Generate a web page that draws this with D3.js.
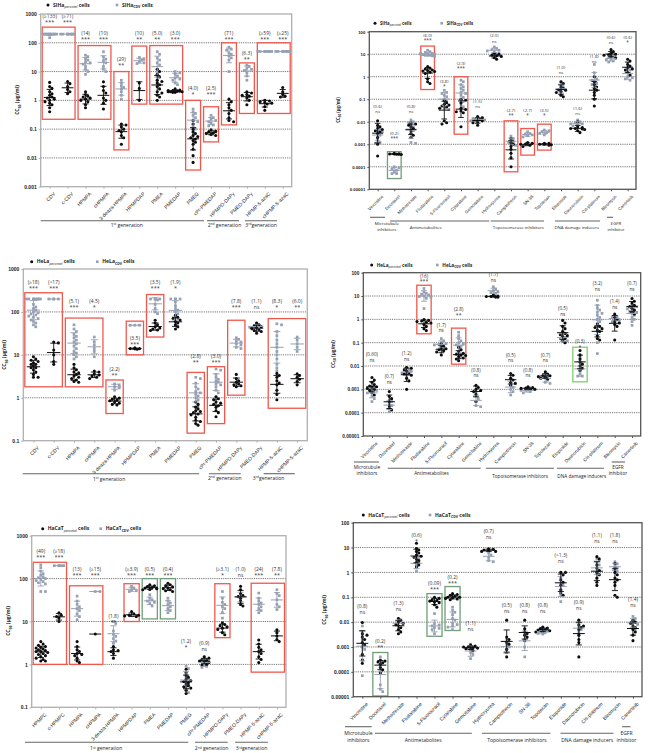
<!DOCTYPE html>
<html><head><meta charset="utf-8">
<script src="https://cdn.jsdelivr.net/npm/d3@7"></script>
<style>body{margin:0;background:#fff}svg{display:block;font-family:"Open Sans","Liberation Sans",sans-serif}</style>
</head><body><svg id="c" width="650" height="753"></svg>
<script>
// ---------------- DATA ----------------
const antiviralCats = ["CDV","c-CDV","HPMPA","cHPMPA","3-deaza-HPMPA","HPMPDAP","PMEA","PMEDAP","PMEG","cPr-PMEDAP","HPMPO-DAPy","PMEO-DAPy","HPMP-5-azaC","cHPMP-5-azaC"];
const antiviralCatsHaCaT = ["HPMPC","c-HPMPC","HPMPA","cHPMPA","3-deaza-HPMPA","HPMPDAP","PMEA","PMEDAP","PMEG","cPr-PMEDAP","HPMPO-DAPy","PMEO-DAPy","HPMP-5-azaC","cHPMP-5-azaC"];
const anticancerCats = ["Vincristine","Docetaxel","Methotrexate","Fludarabine","5-Fluorouracil","Cytarabine","Gemcitabine","Hydroxyurea","Camptothecin","SN-38","Topotecan","Etoposide","Daunorubicin","Cis-platinum","Bleomycin","Canertinib"];

const ticksAntiviral = [0.001,0.01,0.1,1,10,100,1000];
const tickLabelsAntiviral = ["0.001","0.01","0.1","1","10","100","1000"];
const ticksAntiviralHigh = [0.1,1,10,100,1000];
const tickLabelsAntiviralHigh = ["0.1","1","10","100","1000"];
const ticksAnticancer = [0.00001,0.0001,0.001,0.01,0.1,1,10,100];
const tickLabelsAnticancer = ["0.00001","0.0001","0.001","0.01","0.1","1","10","100"];

const antiviralGroups = [["1st"," generation"],["2nd"," generation"],["3rd","generation"]];
const anticancerGroups = [["Microtubule","inhibitors"],["Antimetabolites"],["Topoisomerase inhibitors"],["DNA damage inducers"],["EGFR","inhibitor"]];

// SiHa antiviral
const sihaAvParental = [
 [4.2,3.0,2.6,2.0,1.7,1.5,1.3,1.2,1.1,1.0,0.9,0.8,0.7,0.55,0.4],
 [4.5,3.8,3.0,2.4,2.0,1.7],
 [2.0,1.6,1.4,1.3,1.2,1.1,1.0,0.9,0.7,0.55],
 [4.4,3.0,2.2,1.8,1.2,1.0,0.8,0.5],
 [0.15,0.14,0.12,0.1,0.09,0.08,0.06,0.05,0.03],
 [4.0,2.6,1.0],
 [12,10,8,6.5,5,4.5,4,3.5,3,2.5,2,1.8,1.5,1.3,1.0],
 [2.5,2.3,2.2,2.1,2.1,2.0,2.0,1.9,1.9,2.2,2.0],
 [0.2,0.15,0.1,0.08,0.07,0.06,0.055,0.05,0.045,0.04,0.035,0.03,0.02,0.012,0.007],
 [0.095,0.085,0.08,0.075,0.07,0.065,0.06],
 [1.1,0.9,0.7,0.55,0.45,0.35,0.25,0.2,0.18],
 [2.0,1.8,1.6,1.5,1.4,1.2,1.0,0.7],
 [1.0,0.95,0.9,0.85,0.8,0.75,0.6,0.45],
 [2.8,2.0,1.6,1.4,1.3]];
const sihaAvCdv = [
 [200,200,200,200,200,200,200,200,200,200,150],
 [200,200,200,200,200,200,200,200],
 [37,33,28,25,22,20,18,15,12,10,8],
 [49,32,27,24,20,15,12,10],
 [5,4,3.2,2.8,2.5,2,1.5,1.1],
 [31,28,25,22,20,19],
 [49,40,30,25,20,17,12,9,7,5,4],
 [10,9,8,7,6,5.5,5,4,3.5],
 [0.5,0.4,0.35,0.3,0.25,0.2,0.18,0.15,0.12,0.1,0.08],
 [0.3,0.25,0.22,0.2,0.18,0.16,0.14,0.13],
 [70,60,55,45,40,35,30,25,10],
 [17,15,13,12,11,9,7,5],
 [50,50,50,50,50,50,50,50],
 [50,50,50,50,50,50,50,50]];
const sihaAvRatio = ["(≥133)","(≥71)","(14)","(10)","(29)","(10)","(5.0)","(3.0)","(4.0)","(2.5)","(71)","(6.3)","(≥59)","(≥25)"];
const sihaAvSig = ["***","***","***","***","**","**","**","***","*","***","***","**","***","***"];
const sihaAvAnnot = [700,700,186,186,23,186,186,186,2.2,2.2,186,38,186,186];
const sihaAvBoxes = [[0,1,350,0.22,"red"],[2,3,80,0.22,"red"],[4,4,10,0.019,"red"],[5,5,77,0.74,"red"],[6,7,80,0.74,"red"],[8,8,1.0,0.0038,"red"],[9,9,0.6,0.036,"red"],[10,10,100,0.14,"red"],[11,11,20,0.35,"red"],[12,13,100,0.35,"red"]];

// SiHa anticancer
const sihaAcParental = [
 [0.011,0.007,0.006,0.005,0.0045,0.004,0.0036,0.003,0.002,0.001,0.0003],
 [0.0004,0.00038,0.00037,0.00037,0.00036,0.00035,0.00036],
 [0.009,0.008,0.007,0.006,0.005,0.004,0.003,0.0025,0.002],
 [2.8,2.4,2.2,2.0,1.9,1.8,1.7,1.6,1.4,0.8,0.6,0.5],
 [0.09,0.07,0.06,0.055,0.05,0.045,0.04,0.011,0.009,0.008],
 [0.1,0.09,0.07,0.04,0.035,0.03,0.028,0.025,0.006],
 [0.017,0.015,0.013,0.012,0.011,0.01,0.009,0.007],
 [11,10,9,8.5,8,7,6],
 [0.0018,0.0012,0.001,0.0008,0.0006,0.0004,0.00025,0.0001],
 [0.0012,0.0011,0.001,0.001,0.0009,0.0008],
 [0.0011,0.0011,0.001,0.001,0.00095,0.0009],
 [0.6,0.5,0.35,0.3,0.27,0.25,0.22,0.2,0.15,0.13],
 [0.01,0.006,0.0055,0.005,0.005,0.0048,0.0045,0.004,0.0033],
 [1.0,0.6,0.45,0.35,0.3,0.25,0.2,0.15,0.1,0.05],
 [16,13,11,10,9.5,9,8,7],
 [6,5,3.5,3,2.5,2.2,2,1.5,1.2]];
const sihaAcCdv = [
 [0.006,0.005,0.004,0.0035,0.003,0.0025,0.002,0.0015,0.0012,0.0011],
 [0.0001,0.00009,0.00008,0.00007,0.00006,0.00005,0.00005],
 [0.012,0.01,0.009,0.007,0.006,0.005,0.004,0.003,0.002,0.0012,0.0011],
 [15,13,12,11,10,10,9.5,9,9,8.5,8,10,11,9],
 [0.25,0.2,0.18,0.15,0.13,0.1,0.08,0.06,0.04,0.035],
 [0.7,0.6,0.45,0.35,0.3,0.25,0.2,0.18,0.15,0.12,0.1,0.08,0.06,0.046],
 [0.016,0.015,0.014,0.013,0.012,0.012,0.011,0.01],
 [21,18,16,15,14,12,11],
 [0.0023,0.0018,0.0015,0.0013,0.0012,0.001,0.0009],
 [0.0036,0.003,0.0028,0.0026,0.0024,0.0021],
 [0.0043,0.004,0.0036,0.0033,0.003,0.0026],
 [0.6,0.45,0.35,0.3,0.27,0.25,0.2,0.15],
 [0.012,0.01,0.009,0.008,0.008,0.007,0.0065],
 [3.5,1.5,1.0,0.8,0.7,0.6,0.5,0.45,0.35,0.25],
 [10,8,7,6.5,6,5.5,5,4.5],
 [4,2.5,2,1.5,1.2,1.0,0.9,0.8,0.7]];
const sihaAcRatio = ["(0.6)","(0.2)","(0.8)","(6.0)","(3.8)","(2.9)","(1.5)","(2.0)","(2.7)","(2.7)","(3.5)","(1.0)","(1.6)","(1.8)","(0.6)","(0.6)"];
const sihaAcSig = ["ns","***","ns","***","*","***","ns","ns","**","*","*","ns","ns","ns","ns","*"];
const sihaAcAnnot = [0.04,0.0026,0.04,60,0.51,3.3,0.07,56,0.028,0.028,0.028,2.3,0.035,6.6,46,46];
const sihaAcBoxes = [[1,1,0.00047,0.00003,"green2"],[3,3,23,0.27,"red"],[5,5,1.0,0.0028,"red"],[8,8,0.011,0.00006,"red"],[9,9,0.005,0.00033,"red"],[10,10,0.0078,0.00055,"red"]];

// HeLa antiviral
const helaAvParental = [
 [9,8,7.5,7,6.5,6,6,5.5,5,5,4.5,4,3.5,3,3],
 [20,19,13,10,7,6],
 [6,5,4.5,4,3.8,3.5,3.2,3,2.8,2.6,2.4,2.3],
 [4.2,4,3.6,3.4,3.2,3,2.8],
 [1.05,0.98,0.92,0.88,0.85,0.8,0.75,0.7,0.68],
 [14.5,14,14,13.8,13.5],
 [64,55,50,45,42,40,38,37],
 [84,75,70,65,60,55,50,45,40],
 [0.8,0.7,0.6,0.55,0.5,0.48,0.45,0.42,0.4,0.35,0.3,0.28,0.25,0.23],
 [1.05,0.95,0.9,0.8,0.75,0.7,0.65,0.6,0.5,0.45,0.36],
 [3.5,2.8,2.5,2.3,2.1,2.0,1.9,1.8],
 [55,50,47,45,43,41,39,37,35,32],
 [3.7,3.3,3.0,2.5,2.2,2.0,1.5,1.2,0.9],
 [3.6,3.3,3.0,2.7,2.4,2.0]];
const helaAvCdv = [
 [200,200,200,200,200,200,200,200,150,130,120,110,100,95,90,85,80,75,70,65,60,55,50,45],
 [200,200,200,200],
 [50,40,35,30,27,25,22,20,18,16,14,12,11,10,9,8],
 [26,20,17,14,12,9],
 [2.1,2.0,1.8,1.7,1.5],
 [49,49,49],
 [200,200,200,200,190,150,120,100,91],
 [200,200,200,200,170,140,120,110,100,90,80,70,60,50,45],
 [3.0,2.8,2.2,1.8,1.6,1.4,1.3,1.2,1.1,1.0,0.9,0.8,0.7,0.62],
 [4.7,4.4,3.5,3.0,2.7,2.5,2.3,2.1,2.0,1.8,1.5,1.3,1.05],
 [25,23,21,20,18,17,15,14],
 [55,50,47,45,44,42,40],
 [53,50,35,28,22,18,15,12,10,8,6,5,4.3],
 [26,22,18,15,12]];
const helaAvRatio = ["(≥18)","(>17)","(5.1)","(4.5)","(2.2)","(3.5)","(3.5)","(1.9)","(2.8)","(3.0)","(7.8)","(1.1)","(8.3)","(6.0)"];
const helaAvSig = ["***","***","***","*","**","***","***","*","**","***","***","ns","*","**"];
const helaAvAnnot = [440,440,158,158,4.3,22,440,440,8.3,8.3,158,158,158,158];
const helaAvBoxes = [[0,1,280,1.8,"red"],[2,3,72,1.8,"red"],[4,4,2.6,0.43,"red"],[5,5,61,10,"red"],[6,6,254,26,"red"],[8,8,3.9,0.15,"red"],[9,9,5.3,0.25,"red"],[10,10,64,1.15,"red"],[12,13,70,0.57,"red"]];

// HeLa anticancer
const helaAcParental = [
 [0.0032,0.0025,0.002,0.0016,0.0014,0.0013,0.0012,0.0011,0.001,0.0009,0.0007,0.00057],
 [0.0008,0.0005,0.0004,0.0003,0.0002,0.00015,0.00013],
 [0.0087,0.008,0.007,0.006,0.005,0.0045,0.004,0.003,0.0023,0.001],
 [0.98,0.9,0.85,0.8,0.75,0.7,0.6,0.5,0.4,0.33],
 [0.09,0.07,0.06,0.055,0.05,0.045,0.04,0.03],
 [0.064,0.05,0.04,0.035,0.032,0.03,0.028,0.025,0.022,0.02,0.017],
 [0.0015,0.0012,0.001,0.0009,0.0008,0.0006,0.0003],
 [11,10,9.5,9.5,9,9],
 [0.0048,0.004,0.003,0.0025,0.002,0.0018,0.0015],
 [0.0013,0.0012,0.0011,0.0011,0.001,0.001],
 [0.0057,0.0045,0.004,0.0038,0.0035,0.0033,0.003,0.0028],
 [0.9,0.7,0.5,0.4,0.3,0.25,0.22,0.2,0.18,0.15,0.12,0.1],
 [0.046,0.03,0.02,0.015,0.012,0.01,0.008,0.0064],
 [0.65,0.5,0.45,0.4,0.35,0.3,0.2,0.15,0.13],
 [1.7,1.2,1.0,0.8,0.7,0.6,0.5,0.13],
 [7.8,6,5,4,3.5,3,2.5,2,1.7]];
const helaAcCdv = [
 [0.0013,0.0011,0.001,0.0009,0.0008,0.0007,0.0005,0.0004,0.0003],
 [0.00035,0.0003,0.00025,0.0002,0.00015,0.00011],
 [0.0087,0.007,0.0065,0.006,0.0055,0.005,0.004,0.003],
 [21,15,13,12,11,10,9.5,9,8,2.9],
 [0.15,0.12,0.1,0.09,0.085,0.08,0.07,0.06,0.05],
 [0.28,0.2,0.15,0.12,0.1,0.09,0.08,0.07,0.06,0.05,0.04,0.03,0.0235],
 [0.00067,0.0005,0.0004,0.0003,0.0002,0.00018],
 [25,20,17,15,14,13],
 [0.003,0.002,0.0015,0.0012,0.001,0.0008,0.00057],
 [0.0011,0.001,0.0009,0.0009,0.0008,0.0007],
 [0.0048,0.004,0.0035,0.003,0.0025,0.002,0.0018],
 [0.3,0.25,0.2,0.17,0.15,0.13,0.12,0.1],
 [0.024,0.015,0.01,0.006,0.0045,0.0037,0.0037],
 [6.6,4,3,2.5,2,1.8,1.5,1.2,1,0.8,0.5,0.3,0.1,0.034],
 [1.5,1.3,1.2,1.0,0.9,0.8],
 [4,3.5,3,2.8,2.5,2.2,2,1.8,1.5,1.2,1,0.8,0.55]];
const helaAcRatio = ["(0.60)","(0.7)","(1.2)","(16)","(1.7)","(2.8)","(0.8)","(1.7)","(0.5)","(0.8)","(0.7)","(0.5)","(0.3)","(3.2)","(1.4)","(0.7)"];
const helaAcSig = ["ns","ns","ns","***","ns","**","ns","ns","ns","ns","ns","ns","*","ns","ns","ns"];
const helaAcAnnot = [0.027,0.003,0.03,61,0.49,2.3,0.0058,72,0.025,0.0058,0.025,2.5,0.093,30,4.9,30];
const helaAcBoxes = [[3,3,29,0.24,"red"],[5,5,0.42,0.012,"red"],[12,12,0.064,0.0021,"green"]];

// HaCaT antiviral
const hacatAvParental = [
 [3.4,3.0,2.8,2.6,2.5,2.4,2.3,2.2,2.1,2.0,2.0,1.9,1.8,1.7,1.6,1.5,1.4,1.3,1.2,1.2],
 [16,14,13,12,10],
 [3.4,2.6,2.2,2.0,1.8,1.7,1.6,1.4,1.2,1.1],
 [5.1],
 [2.6,2.2,2.1,2.0,1.8,1.4],
 [17,15,14,14,13.5,13],
 [72,68,65,62,60,60,58,56,55],
 [78,72,68,64,60,58,55,52,50],
 [0.77,0.65,0.55,0.5,0.45,0.42,0.4,0.38,0.35,0.32,0.3,0.28,0.25,0.21],
 [1.5,1.4,1.3,1.25,1.2,1.15,1.1,1.0,0.97],
 [9.3,8.5,8,7.5,7,6.5,5.5,4.9],
 [66,55,45,40,38,35,30,25,23],
 [3.7,3,2.5,2.2,2,1.8,1.5,1.3,1.1],
 [6.4,5.5,4.6,3.8,3.4]];
const hacatAvCdv = [
 [210,180,150,130,120,110,105,100,95,90,85,80,75,50,50],
 [200,200,200,200,200],
 [39,30,25,22,20,18,15,13,11],
 [50,50],
 [10,9,6,5,4.5,4,3.5,3.1],
 [66,60,55,52,50],
 [42,35,32,30,28,26,23],
 [35,30,27,25,22,20,18,16],
 [0.9,0.8,0.6,0.5,0.45,0.4,0.35,0.3,0.25,0.22],
 [1.5,1.3,1.2,1.1,1.0,0.9,0.85],
 [50,35,28,25,22,20,16,12],
 [55,45,40,38,35,30,25],
 [46,35,30,27,25,22,20,18,16],
 [55,45,40,32,25,22,19]];
const hacatAvRatio = ["(49)","(≥18)","(13)","(≥15)","(1.8)","(≥3.9)","(0.5)","(0.4)","(1.2)","(0.9)","(≥3.1)","(1.0)","(24)","(7.8)"];
const hacatAvSig = ["***","***","***","***","**","***","***","***","*","ns","*","ns","***","**"];
const hacatAvAnnot = [400,400,152,152,11.8,152,152,152,3.1,2.8,152,152,152,152];
const hacatAvBoxes = [[0,1,240,1.0,"red"],[2,3,68,1.0,"red"],[5,5,76,10,"red"],[6,6,100,11.5,"green2"],[7,7,100,11.5,"green2"],[10,10,76,4.2,"red"],[12,13,78,0.66,"red"]];

// HaCaT anticancer
const hacatAcParental = [
 [0.0097,0.0034,0.003,0.0025,0.002,0.0015,0.0012,0.0005,0.0003,0.00022],
 [0.00029,0.00027,0.00025,0.00023,0.0002,0.00015,0.00012,0.00009],
 [0.014,0.012,0.01,0.009,0.008,0.007,0.006,0.005,0.004,0.0034],
 [15,9.2,8,7,6,5,4.5,4,3.5,3,2.5,2,1.7],
 [0.1,0.09,0.08,0.075,0.07,0.065,0.06,0.05,0.04],
 [0.14,0.13,0.12,0.11,0.1,0.1,0.095,0.09,0.085,0.08],
 [0.0012,0.0011,0.001,0.001,0.00095,0.0009,0.00085,0.0008,0.0007],
 [9,8.5,8,7.5,7,7],
 [0.012,0.0025,0.002,0.0015,0.0013,0.0008,0.0004],
 [0.012,0.0054,0.004,0.0035,0.003,0.0025,0.0018],
 [0.0063,0.0058,0.0055,0.005,0.0048,0.0045,0.0042,0.004],
 [1.0,1.0,0.8,0.5,0.4,0.3,0.2,0.15,0.12],
 [0.012,0.0077,0.007,0.006,0.005,0.003,0.002,0.0015,0.0004],
 [4.3,3.5,2,1.5,1.2,1,0.8,0.6,0.4,0.3],
 [2.3,1.5,1,0.8,0.6,0.5,0.4,0.3,0.12,0.1],
 [0.012,0.01,0.009,0.007,0.006,0.005,0.004,0.003,0.0018]];
const hacatAcCdv = [
 [0.007,0.004,0.003,0.002,0.0015,0.001,0.0008,0.0005,0.0003,0.00007],
 [0.0004,0.0003,0.00015,0.0001,0.00003,0.00002,0.000016],
 [0.014,0.012,0.01,0.009,0.008,0.007,0.006],
 [4.3,3.5,3,2.5,2,1.5,1.1],
 [0.022,0.0086,0.0077,0.007,0.006,0.0056,0.005,0.0034],
 [0.04,0.03,0.025,0.02,0.014,0.012,0.009,0.008,0.007,0.0063,0.005],
 [0.0013,0.001,0.0008,0.0006,0.0005,0.00034],
 [8,6,5,4,3,2.7],
 [0.002,0.0012,0.001,0.0008,0.0006],
 [0.005,0.003,0.0025,0.002,0.001,0.0004],
 [0.005,0.0045,0.004,0.0038,0.0035,0.0033],
 [1.0,0.6,0.36,0.3,0.2,0.12,0.067],
 [0.012,0.008,0.006,0.005,0.004,0.003],
 [3.6,3,2.5,2,1.5,1.2,1,0.8,0.57],
 [2.7,2.2,1.8,1.5,1.3,1.1],
 [0.017,0.014,0.012,0.01,0.009,0.008,0.006,0.005]];
const hacatAcRatio = ["(0.8)","(0.2)","(1.3)","(0.6)","(0.09)","(0.2)","(1.1)","(0.7)","(0.5)","(0.8)","(0.8)","(>1.3)","(0.9)","(1.1)","(1.8)","(1.4)"];
const hacatAcSig = ["ns","**","ns","*","***","***","ns","ns","ns","ns","ns","ns","ns","ns","ns","ns"];
const hacatAcAnnot = [0.036,0.0014,0.049,27,0.31,0.53,0.0076,37,0.039,0.039,0.039,4.1,0.054,26,26,0.072];
const hacatAcBoxes = [[1,1,0.0006,0.0000107,"green2"],[4,4,0.14,0.0027,"green2"],[5,5,0.27,0.0046,"green2"]];

// ---------------- LAYOUT ----------------
const boxColors = {red:"#f0584c", green:"#7ccf6c", green2:"#6f9e78"};
const panels = [
 {cell:"SIHa", cats:antiviralCats, par:sihaAvParental, cdv:sihaAvCdv, ratio:sihaAvRatio, sig:sihaAvSig, ann:sihaAvAnnot, boxes:sihaAvBoxes,
  ticks:ticksAntiviral, tl:tickLabelsAntiviral, groups:antiviralGroups,
  L:40.7,R:291.7,T:14,B:186.7, dom:[0.001,1000], frame:"#b0b0b0", fs:5, leg:[48,5,117], title:[19,100],
  glines:[[-0.5,8.61,34],[8.78,10.56,34],[10.89,12.68,34]], gtext:[[4.3,40],[9.75,40],[11.79,40]]},
 {cell:"SIHa", cats:anticancerCats, par:sihaAcParental, cdv:sihaAcCdv, ratio:sihaAcRatio, sig:sihaAcSig, ann:sihaAcAnnot, boxes:sihaAcBoxes,
  ticks:ticksAnticancer, tl:tickLabelsAnticancer, groups:anticancerGroups,
  L:369.3,R:636,T:31.7,B:189.3, dom:[0.00001,100], frame:"#555", fs:4.3, leg:[375,23.3,441.7], title:[340,110],
  glines:[[-0.46,0.44,28],[0.74,6.7,31.7],[6.78,9.98,31.7],[10.64,13.34,31.7],[13.76,14.12,28]], gtext:[[0.55,35.2],[2.88,39.5],[8.44,39.5],[11.95,39.5],[14.3,35.2]]},
 {cell:"HeLa", cats:antiviralCats, par:helaAvParental, cdv:helaAvCdv, ratio:helaAvRatio, sig:helaAvSig, ann:helaAvAnnot, boxes:helaAvBoxes,
  ticks:ticksAntiviralHigh, tl:tickLabelsAntiviralHigh, groups:antiviralGroups,
  L:23.3,R:307.3,T:269,B:440.7, dom:[0.1,1000], frame:"#b0b0b0", fs:5, leg:[31.7,261.7,97.3], title:[6,355],
  glines:[[-0.53,8.17,33],[8.65,10.22,33],[11.35,12.88,33]], gtext:[[3.73,40],[9.43,39],[11.59,39]]},
 {cell:"HeLa", cats:anticancerCats, par:helaAcParental, cdv:helaAcCdv, ratio:helaAcRatio, sig:helaAcSig, ann:helaAcAnnot, boxes:helaAcBoxes,
  ticks:ticksAnticancer, tl:tickLabelsAnticancer, groups:anticancerGroups,
  L:363.3,R:640.7,T:272.7,B:436, dom:[0.00001,100], frame:"#555", fs:4.7, leg:[371.7,265,437.3], title:[335,354],
  glines:[[-1.04,0.4,26],[0.91,6.27,32.3],[6.58,10.5,32.3],[10.67,13.38,32.3],[13.83,14.6,26]], gtext:[[-0.29,32.5],[3.43,39],[8.54,42],[12.1,42],[14.19,32.5]]},
 {cell:"HaCaT", cats:antiviralCatsHaCaT, par:hacatAvParental, cdv:hacatAvCdv, ratio:hacatAvRatio, sig:hacatAvSig, ann:hacatAvAnnot, boxes:hacatAvBoxes,
  ticks:ticksAntiviralHigh, tl:tickLabelsAntiviralHigh, groups:antiviralGroups,
  L:31.7,R:286,T:535.7,B:707.3, dom:[0.1,1000], frame:"#b0b0b0", fs:5, leg:[42.7,528.7,100.7], title:[10,621],
  glines:[[-0.87,8.12,35],[8.49,10.29,35],[10.7,12.5,35]], gtext:[[3.6,43],[9.4,43],[11.6,43]]},
 {cell:"HaCaT", cats:anticancerCats, par:hacatAcParental, cdv:hacatAcCdv, ratio:hacatAcRatio, sig:hacatAcSig, ann:hacatAcAnnot, boxes:hacatAcBoxes,
  ticks:ticksAnticancer, tl:tickLabelsAnticancer, groups:anticancerGroups,
  L:353.3,R:642,T:522.7,B:696.7, dom:[0.00001,100], frame:"#555", fs:5, leg:[363.3,515,430], title:[326,610],
  glines:[[-0.96,0.52,30],[0.7,6.07,36.6],[6.63,10.42,36.6],[10.98,13.92,36.6],[14.4,14.86,30]], gtext:[[-0.22,38.5],[3.37,45],[8.57,45],[12.46,45],[14.64,38.5]]}
];

const svg = d3.select("#c");
const BLACK = "#0d0d0d", GREY = "#95a0b3";

function swarm(vals, y, cx, r, maxOff){
  const pts = vals.map(v=>({v, y:y(v)})).sort((a,b)=>a.y-b.y);
  const placed = [];
  const dx = r*1.5;
  pts.forEach((p,j)=>{
    let ok=false;
    for(let k=0;k<30;k++){
      const off = k===0?0:((k%2)?1:-1)*Math.ceil(k/2)*dx;
      if(Math.abs(off)>maxOff) break;
      if(placed.every(q=>Math.hypot(q.x-(cx+off), q.y-p.y) >= r*1.75)){ p.x=cx+off; ok=true; break; }
    }
    if(!ok){ const m=Math.floor(maxOff/dx); const s=(j%(2*m+1))-m; p.x=cx+s*dx; }
    placed.push(p);
  });
  return placed;
}

function drawPanel(P){
  const g = svg.append("g");
  const n = P.cats.length;
  const x = d3.scaleLinear().domain([-0.5,n-0.5]).range([P.L,P.R]);
  const y = d3.scaleLog().domain(P.dom).range([P.B,P.T]);
  const step = x(1)-x(0);
  const fs = P.fs;

  // grid
  g.selectAll(".grid").data(P.ticks.filter(t=>t>P.dom[0]*1.0001 && t<P.dom[1]*0.9999)).join("line")
    .attr("x1",P.L).attr("x2",P.R).attr("y1",d=>y(d)).attr("y2",d=>y(d))
    .attr("stroke","#666").attr("stroke-width",0.9).attr("stroke-dasharray","1.2,1");

  // boxes
  g.selectAll(".box").data(P.boxes).join("rect")
    .attr("x",d=>x(d[0]-0.5)+1.5).attr("width",d=>x(d[1]+0.5)-x(d[0]-0.5)-3)
    .attr("y",d=>y(d[2])).attr("height",d=>y(d[3])-y(d[2]))
    .attr("fill","none").attr("stroke",d=>boxColors[d[4]]).attr("stroke-width",1.3);

  // points
  const r = 1.55;
  P.cats.forEach((c,i)=>{
    const cx = x(i);
    const gp = swarm(P.cdv[i], y, cx, r, step*0.42);
    g.selectAll(null).data(gp).join("rect")
      .attr("x",d=>d.x-1.35).attr("y",d=>d.y-1.35).attr("width",2.7).attr("height",2.7).attr("fill",GREY);
    const bp = swarm(P.par[i], y, cx, r, step*0.42);
    g.selectAll(null).data(bp).join("circle")
      .attr("cx",d=>d.x).attr("cy",d=>d.y).attr("r",r).attr("fill",BLACK);
    [[P.cdv[i],GREY],[P.par[i],BLACK]].forEach(([vals,col])=>{
      const lg = vals.map(Math.log10);
      const m = d3.mean(lg), s = lg.length>1 ? d3.deviation(lg) : 0;
      const ym = y(Math.pow(10,m));
      const hw = step*0.33, cw = step*0.17;
      g.append("line").attr("x1",cx-hw).attr("x2",cx+hw).attr("y1",ym).attr("y2",ym).attr("stroke",col).attr("stroke-width",1);
      if(s>0.005){
        const y1 = y(Math.pow(10,m+s)), y2 = y(Math.pow(10,m-s));
        g.append("line").attr("x1",cx).attr("x2",cx).attr("y1",y1).attr("y2",y2).attr("stroke",col).attr("stroke-width",0.9);
        [y1,y2].forEach(yy=>g.append("line").attr("x1",cx-cw).attr("x2",cx+cw).attr("y1",yy).attr("y2",yy).attr("stroke",col).attr("stroke-width",0.9));
      }
    });
    // annotations
    const ya = y(P.ann[i]);
    g.append("text").attr("x",cx).attr("y",ya).attr("text-anchor","middle").attr("font-size",fs).attr("fill","#333").text(P.ratio[i]);
    g.append("text").attr("x",cx).attr("y",ya+fs*1.2).attr("text-anchor","middle").attr("font-size",P.sig[i]==="ns"?fs:fs*1.1).attr("fill","#333").text(P.sig[i]);
  });

  // frame
  g.append("rect").attr("x",P.L).attr("y",P.T).attr("width",P.R-P.L).attr("height",P.B-P.T)
    .attr("fill","none").attr("stroke",P.frame).attr("stroke-width",1.3);

  // y axis
  const ya = g.append("g").attr("transform",`translate(${P.L},0)`)
    .call(d3.axisLeft(y).tickValues(P.ticks).tickFormat(d=>P.tl[P.ticks.indexOf(d)]).tickSize(2).tickPadding(2));
  ya.select(".domain").remove();
  ya.selectAll("line").attr("stroke",P.frame);
  ya.selectAll("text").attr("font-size",fs).attr("font-weight","bold").attr("fill","#222").attr("font-family",null);

  // x axis
  const xa = g.append("g").attr("transform",`translate(0,${P.B})`)
    .call(d3.axisBottom(x).tickValues(d3.range(n)).tickFormat(i=>P.cats[i]).tickSize(2));
  xa.select(".domain").remove();
  xa.selectAll("line").attr("stroke",P.frame);
  xa.selectAll("text").attr("font-size",fs).attr("fill","#222").attr("font-family",null)
    .attr("text-anchor","end").attr("dy",0).attr("transform","translate(2,4) rotate(-45)");

  // axis title
  const t = g.append("text").attr("transform",`translate(${P.title[0]},${P.title[1]}) rotate(-90)`)
    .attr("text-anchor","middle").attr("font-size",fs).attr("font-weight","bold").attr("fill","#222");
  t.append("tspan").text("CC");
  t.append("tspan").attr("font-size",fs*0.7).attr("dy",fs*0.3).text("50");
  t.append("tspan").attr("dy",-fs*0.3).text(" (µg/ml)");

  // group lines + text
  P.groups.forEach((lab,k)=>{
    const gl = P.glines[k], gt = P.gtext[k];
    g.append("line").attr("x1",x(gl[0])).attr("x2",x(gl[1])).attr("y1",P.B+gl[2]).attr("y2",P.B+gl[2])
      .attr("stroke","#666").attr("stroke-width",1.1);
    const tx = x(gt[0]);
    if(/^\d(st|nd|rd)$/.test(lab[0])){
      const te = g.append("text").attr("x",tx).attr("y",P.B+gt[1]).attr("text-anchor","middle").attr("font-size",fs).attr("fill","#222");
      te.append("tspan").text(lab[0][0]);
      te.append("tspan").attr("font-size",fs*0.65).attr("dy",-fs*0.35).text(lab[0].slice(1));
      te.append("tspan").attr("dy",fs*0.35).text(lab[1]);
    } else {
      lab.forEach((line,li)=>{
        g.append("text").attr("x",tx).attr("y",P.B+gt[1]+li*fs*1.45).attr("text-anchor","middle")
          .attr("font-size",fs).attr("fill","#222").text(line);
      });
    }
  });

  // legend
  const [lx,ly,lx2] = P.leg;
  g.append("circle").attr("cx",lx).attr("cy",ly).attr("r",1.5).attr("fill",BLACK);
  const l1 = g.append("text").attr("x",lx+5).attr("y",ly+fs*0.35).attr("font-size",fs).attr("font-weight","bold").attr("fill","#222");
  l1.append("tspan").text(P.cell);
  l1.append("tspan").attr("font-size",fs*0.7).attr("dy",fs*0.3).attr("font-style","italic").attr("font-weight","normal").text("parental");
  l1.append("tspan").attr("dy",-fs*0.3).text(" cells");
  g.append("rect").attr("x",lx2-1.3).attr("y",ly-1.3).attr("width",2.6).attr("height",2.6).attr("fill",GREY);
  const l2 = g.append("text").attr("x",lx2+5).attr("y",ly+fs*0.35).attr("font-size",fs).attr("font-weight","bold").attr("fill","#222");
  l2.append("tspan").text(P.cell);
  l2.append("tspan").attr("font-size",fs*0.7).attr("dy",fs*0.3).text("CDV");
  l2.append("tspan").attr("dy",-fs*0.3).text(" cells");
}

panels.forEach(drawPanel);
</script></body></html>
